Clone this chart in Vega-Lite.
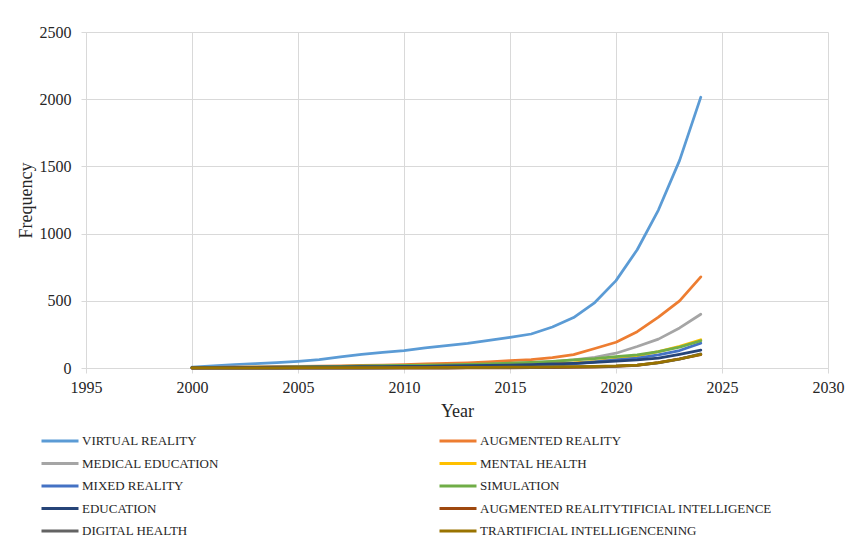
{
  "$schema": "https://vega.github.io/schema/vega-lite/v6.json",
  "width": 742,
  "height": 336,
  "autosize": {"type": "none"},
  "padding": {"left": 86, "top": 32, "right": 22, "bottom": 176},
  "background": "white",
  "config": {
    "font": "Liberation Serif",
    "view": {"stroke": null},
    "axis": {
      "gridColor": "#D9D9D9",
      "gridWidth": 1,
      "domainColor": "#D9D9D9",
      "domainWidth": 1,
      "tickColor": "#D9D9D9",
      "tickSize": 5,
      "labelFont": "Liberation Serif",
      "labelFontSize": 16,
      "labelColor": "#262626",
      "titleFont": "Liberation Serif",
      "titleFontSize": 18,
      "titleFontWeight": "normal",
      "titleColor": "#262626"
    }
  },
  "data": {
    "values": [
      {"series":"VIRTUAL REALITY","year":2000,"value":7},{"series":"VIRTUAL REALITY","year":2001,"value":15},{"series":"VIRTUAL REALITY","year":2002,"value":25},{"series":"VIRTUAL REALITY","year":2003,"value":32},{"series":"VIRTUAL REALITY","year":2004,"value":40},{"series":"VIRTUAL REALITY","year":2005,"value":50},{"series":"VIRTUAL REALITY","year":2006,"value":62},{"series":"VIRTUAL REALITY","year":2007,"value":82},{"series":"VIRTUAL REALITY","year":2008,"value":102},{"series":"VIRTUAL REALITY","year":2009,"value":117},{"series":"VIRTUAL REALITY","year":2010,"value":130},{"series":"VIRTUAL REALITY","year":2011,"value":149},{"series":"VIRTUAL REALITY","year":2012,"value":166},{"series":"VIRTUAL REALITY","year":2013,"value":184},{"series":"VIRTUAL REALITY","year":2014,"value":206},{"series":"VIRTUAL REALITY","year":2015,"value":228},{"series":"VIRTUAL REALITY","year":2016,"value":253},{"series":"VIRTUAL REALITY","year":2017,"value":305},{"series":"VIRTUAL REALITY","year":2018,"value":375},{"series":"VIRTUAL REALITY","year":2019,"value":487},{"series":"VIRTUAL REALITY","year":2020,"value":650},{"series":"VIRTUAL REALITY","year":2021,"value":880},{"series":"VIRTUAL REALITY","year":2022,"value":1175},{"series":"VIRTUAL REALITY","year":2023,"value":1545},{"series":"VIRTUAL REALITY","year":2024,"value":2015},
      {"series":"AUGMENTED REALITY","year":2000,"value":2},{"series":"AUGMENTED REALITY","year":2001,"value":4},{"series":"AUGMENTED REALITY","year":2002,"value":6},{"series":"AUGMENTED REALITY","year":2003,"value":8},{"series":"AUGMENTED REALITY","year":2004,"value":10},{"series":"AUGMENTED REALITY","year":2005,"value":12},{"series":"AUGMENTED REALITY","year":2006,"value":14},{"series":"AUGMENTED REALITY","year":2007,"value":16},{"series":"AUGMENTED REALITY","year":2008,"value":19},{"series":"AUGMENTED REALITY","year":2009,"value":22},{"series":"AUGMENTED REALITY","year":2010,"value":26},{"series":"AUGMENTED REALITY","year":2011,"value":30},{"series":"AUGMENTED REALITY","year":2012,"value":34},{"series":"AUGMENTED REALITY","year":2013,"value":39},{"series":"AUGMENTED REALITY","year":2014,"value":46},{"series":"AUGMENTED REALITY","year":2015,"value":54},{"series":"AUGMENTED REALITY","year":2016,"value":62},{"series":"AUGMENTED REALITY","year":2017,"value":78},{"series":"AUGMENTED REALITY","year":2018,"value":100},{"series":"AUGMENTED REALITY","year":2019,"value":145},{"series":"AUGMENTED REALITY","year":2020,"value":192},{"series":"AUGMENTED REALITY","year":2021,"value":270},{"series":"AUGMENTED REALITY","year":2022,"value":378},{"series":"AUGMENTED REALITY","year":2023,"value":500},{"series":"AUGMENTED REALITY","year":2024,"value":678},
      {"series":"MEDICAL EDUCATION","year":2000,"value":1},{"series":"MEDICAL EDUCATION","year":2001,"value":2},{"series":"MEDICAL EDUCATION","year":2002,"value":3},{"series":"MEDICAL EDUCATION","year":2003,"value":4},{"series":"MEDICAL EDUCATION","year":2004,"value":5},{"series":"MEDICAL EDUCATION","year":2005,"value":6},{"series":"MEDICAL EDUCATION","year":2006,"value":8},{"series":"MEDICAL EDUCATION","year":2007,"value":10},{"series":"MEDICAL EDUCATION","year":2008,"value":12},{"series":"MEDICAL EDUCATION","year":2009,"value":14},{"series":"MEDICAL EDUCATION","year":2010,"value":16},{"series":"MEDICAL EDUCATION","year":2011,"value":18},{"series":"MEDICAL EDUCATION","year":2012,"value":20},{"series":"MEDICAL EDUCATION","year":2013,"value":23},{"series":"MEDICAL EDUCATION","year":2014,"value":27},{"series":"MEDICAL EDUCATION","year":2015,"value":32},{"series":"MEDICAL EDUCATION","year":2016,"value":40},{"series":"MEDICAL EDUCATION","year":2017,"value":48},{"series":"MEDICAL EDUCATION","year":2018,"value":60},{"series":"MEDICAL EDUCATION","year":2019,"value":80},{"series":"MEDICAL EDUCATION","year":2020,"value":110},{"series":"MEDICAL EDUCATION","year":2021,"value":160},{"series":"MEDICAL EDUCATION","year":2022,"value":215},{"series":"MEDICAL EDUCATION","year":2023,"value":298},{"series":"MEDICAL EDUCATION","year":2024,"value":400},
      {"series":"MENTAL HEALTH","year":2000,"value":0},{"series":"MENTAL HEALTH","year":2001,"value":1},{"series":"MENTAL HEALTH","year":2002,"value":1},{"series":"MENTAL HEALTH","year":2003,"value":2},{"series":"MENTAL HEALTH","year":2004,"value":2},{"series":"MENTAL HEALTH","year":2005,"value":3},{"series":"MENTAL HEALTH","year":2006,"value":3},{"series":"MENTAL HEALTH","year":2007,"value":4},{"series":"MENTAL HEALTH","year":2008,"value":5},{"series":"MENTAL HEALTH","year":2009,"value":6},{"series":"MENTAL HEALTH","year":2010,"value":8},{"series":"MENTAL HEALTH","year":2011,"value":9},{"series":"MENTAL HEALTH","year":2012,"value":11},{"series":"MENTAL HEALTH","year":2013,"value":13},{"series":"MENTAL HEALTH","year":2014,"value":16},{"series":"MENTAL HEALTH","year":2015,"value":20},{"series":"MENTAL HEALTH","year":2016,"value":24},{"series":"MENTAL HEALTH","year":2017,"value":30},{"series":"MENTAL HEALTH","year":2018,"value":38},{"series":"MENTAL HEALTH","year":2019,"value":50},{"series":"MENTAL HEALTH","year":2020,"value":66},{"series":"MENTAL HEALTH","year":2021,"value":90},{"series":"MENTAL HEALTH","year":2022,"value":122},{"series":"MENTAL HEALTH","year":2023,"value":162},{"series":"MENTAL HEALTH","year":2024,"value":210},
      {"series":"MIXED REALITY","year":2000,"value":0},{"series":"MIXED REALITY","year":2001,"value":0},{"series":"MIXED REALITY","year":2002,"value":0},{"series":"MIXED REALITY","year":2003,"value":0},{"series":"MIXED REALITY","year":2004,"value":0},{"series":"MIXED REALITY","year":2005,"value":1},{"series":"MIXED REALITY","year":2006,"value":1},{"series":"MIXED REALITY","year":2007,"value":1},{"series":"MIXED REALITY","year":2008,"value":1},{"series":"MIXED REALITY","year":2009,"value":2},{"series":"MIXED REALITY","year":2010,"value":3},{"series":"MIXED REALITY","year":2011,"value":4},{"series":"MIXED REALITY","year":2012,"value":5},{"series":"MIXED REALITY","year":2013,"value":6},{"series":"MIXED REALITY","year":2014,"value":8},{"series":"MIXED REALITY","year":2015,"value":10},{"series":"MIXED REALITY","year":2016,"value":14},{"series":"MIXED REALITY","year":2017,"value":20},{"series":"MIXED REALITY","year":2018,"value":30},{"series":"MIXED REALITY","year":2019,"value":45},{"series":"MIXED REALITY","year":2020,"value":60},{"series":"MIXED REALITY","year":2021,"value":74},{"series":"MIXED REALITY","year":2022,"value":98},{"series":"MIXED REALITY","year":2023,"value":130},{"series":"MIXED REALITY","year":2024,"value":185},
      {"series":"SIMULATION","year":2000,"value":3},{"series":"SIMULATION","year":2001,"value":4},{"series":"SIMULATION","year":2002,"value":5},{"series":"SIMULATION","year":2003,"value":6},{"series":"SIMULATION","year":2004,"value":7},{"series":"SIMULATION","year":2005,"value":9},{"series":"SIMULATION","year":2006,"value":11},{"series":"SIMULATION","year":2007,"value":13},{"series":"SIMULATION","year":2008,"value":15},{"series":"SIMULATION","year":2009,"value":17},{"series":"SIMULATION","year":2010,"value":19},{"series":"SIMULATION","year":2011,"value":21},{"series":"SIMULATION","year":2012,"value":24},{"series":"SIMULATION","year":2013,"value":27},{"series":"SIMULATION","year":2014,"value":31},{"series":"SIMULATION","year":2015,"value":36},{"series":"SIMULATION","year":2016,"value":42},{"series":"SIMULATION","year":2017,"value":50},{"series":"SIMULATION","year":2018,"value":60},{"series":"SIMULATION","year":2019,"value":70},{"series":"SIMULATION","year":2020,"value":84},{"series":"SIMULATION","year":2021,"value":98},{"series":"SIMULATION","year":2022,"value":122},{"series":"SIMULATION","year":2023,"value":155},{"series":"SIMULATION","year":2024,"value":203},
      {"series":"EDUCATION","year":2000,"value":2},{"series":"EDUCATION","year":2001,"value":3},{"series":"EDUCATION","year":2002,"value":4},{"series":"EDUCATION","year":2003,"value":5},{"series":"EDUCATION","year":2004,"value":6},{"series":"EDUCATION","year":2005,"value":7},{"series":"EDUCATION","year":2006,"value":8},{"series":"EDUCATION","year":2007,"value":9},{"series":"EDUCATION","year":2008,"value":10},{"series":"EDUCATION","year":2009,"value":11},{"series":"EDUCATION","year":2010,"value":12},{"series":"EDUCATION","year":2011,"value":13},{"series":"EDUCATION","year":2012,"value":15},{"series":"EDUCATION","year":2013,"value":17},{"series":"EDUCATION","year":2014,"value":19},{"series":"EDUCATION","year":2015,"value":22},{"series":"EDUCATION","year":2016,"value":25},{"series":"EDUCATION","year":2017,"value":30},{"series":"EDUCATION","year":2018,"value":35},{"series":"EDUCATION","year":2019,"value":42},{"series":"EDUCATION","year":2020,"value":52},{"series":"EDUCATION","year":2021,"value":60},{"series":"EDUCATION","year":2022,"value":73},{"series":"EDUCATION","year":2023,"value":102},{"series":"EDUCATION","year":2024,"value":133},
      {"series":"AUGMENTED REALITYTIFICIAL INTELLIGENCE","year":2000,"value":0},{"series":"AUGMENTED REALITYTIFICIAL INTELLIGENCE","year":2001,"value":0},{"series":"AUGMENTED REALITYTIFICIAL INTELLIGENCE","year":2002,"value":0},{"series":"AUGMENTED REALITYTIFICIAL INTELLIGENCE","year":2003,"value":0},{"series":"AUGMENTED REALITYTIFICIAL INTELLIGENCE","year":2004,"value":0},{"series":"AUGMENTED REALITYTIFICIAL INTELLIGENCE","year":2005,"value":0},{"series":"AUGMENTED REALITYTIFICIAL INTELLIGENCE","year":2006,"value":0},{"series":"AUGMENTED REALITYTIFICIAL INTELLIGENCE","year":2007,"value":0},{"series":"AUGMENTED REALITYTIFICIAL INTELLIGENCE","year":2008,"value":0},{"series":"AUGMENTED REALITYTIFICIAL INTELLIGENCE","year":2009,"value":0},{"series":"AUGMENTED REALITYTIFICIAL INTELLIGENCE","year":2010,"value":0},{"series":"AUGMENTED REALITYTIFICIAL INTELLIGENCE","year":2011,"value":0},{"series":"AUGMENTED REALITYTIFICIAL INTELLIGENCE","year":2012,"value":0},{"series":"AUGMENTED REALITYTIFICIAL INTELLIGENCE","year":2013,"value":1},{"series":"AUGMENTED REALITYTIFICIAL INTELLIGENCE","year":2014,"value":1},{"series":"AUGMENTED REALITYTIFICIAL INTELLIGENCE","year":2015,"value":1},{"series":"AUGMENTED REALITYTIFICIAL INTELLIGENCE","year":2016,"value":2},{"series":"AUGMENTED REALITYTIFICIAL INTELLIGENCE","year":2017,"value":2},{"series":"AUGMENTED REALITYTIFICIAL INTELLIGENCE","year":2018,"value":4},{"series":"AUGMENTED REALITYTIFICIAL INTELLIGENCE","year":2019,"value":7},{"series":"AUGMENTED REALITYTIFICIAL INTELLIGENCE","year":2020,"value":12},{"series":"AUGMENTED REALITYTIFICIAL INTELLIGENCE","year":2021,"value":20},{"series":"AUGMENTED REALITYTIFICIAL INTELLIGENCE","year":2022,"value":40},{"series":"AUGMENTED REALITYTIFICIAL INTELLIGENCE","year":2023,"value":68},{"series":"AUGMENTED REALITYTIFICIAL INTELLIGENCE","year":2024,"value":100},
      {"series":"DIGITAL HEALTH","year":2000,"value":0},{"series":"DIGITAL HEALTH","year":2001,"value":0},{"series":"DIGITAL HEALTH","year":2002,"value":0},{"series":"DIGITAL HEALTH","year":2003,"value":0},{"series":"DIGITAL HEALTH","year":2004,"value":0},{"series":"DIGITAL HEALTH","year":2005,"value":0},{"series":"DIGITAL HEALTH","year":2006,"value":0},{"series":"DIGITAL HEALTH","year":2007,"value":0},{"series":"DIGITAL HEALTH","year":2008,"value":0},{"series":"DIGITAL HEALTH","year":2009,"value":0},{"series":"DIGITAL HEALTH","year":2010,"value":1},{"series":"DIGITAL HEALTH","year":2011,"value":1},{"series":"DIGITAL HEALTH","year":2012,"value":1},{"series":"DIGITAL HEALTH","year":2013,"value":2},{"series":"DIGITAL HEALTH","year":2014,"value":2},{"series":"DIGITAL HEALTH","year":2015,"value":3},{"series":"DIGITAL HEALTH","year":2016,"value":4},{"series":"DIGITAL HEALTH","year":2017,"value":6},{"series":"DIGITAL HEALTH","year":2018,"value":8},{"series":"DIGITAL HEALTH","year":2019,"value":10},{"series":"DIGITAL HEALTH","year":2020,"value":14},{"series":"DIGITAL HEALTH","year":2021,"value":22},{"series":"DIGITAL HEALTH","year":2022,"value":38},{"series":"DIGITAL HEALTH","year":2023,"value":66},{"series":"DIGITAL HEALTH","year":2024,"value":105},
      {"series":"TRARTIFICIAL INTELLIGENCENING","year":2000,"value":1},{"series":"TRARTIFICIAL INTELLIGENCENING","year":2001,"value":1},{"series":"TRARTIFICIAL INTELLIGENCENING","year":2002,"value":1},{"series":"TRARTIFICIAL INTELLIGENCENING","year":2003,"value":1},{"series":"TRARTIFICIAL INTELLIGENCENING","year":2004,"value":1},{"series":"TRARTIFICIAL INTELLIGENCENING","year":2005,"value":2},{"series":"TRARTIFICIAL INTELLIGENCENING","year":2006,"value":2},{"series":"TRARTIFICIAL INTELLIGENCENING","year":2007,"value":2},{"series":"TRARTIFICIAL INTELLIGENCENING","year":2008,"value":2},{"series":"TRARTIFICIAL INTELLIGENCENING","year":2009,"value":3},{"series":"TRARTIFICIAL INTELLIGENCENING","year":2010,"value":3},{"series":"TRARTIFICIAL INTELLIGENCENING","year":2011,"value":3},{"series":"TRARTIFICIAL INTELLIGENCENING","year":2012,"value":4},{"series":"TRARTIFICIAL INTELLIGENCENING","year":2013,"value":4},{"series":"TRARTIFICIAL INTELLIGENCENING","year":2014,"value":5},{"series":"TRARTIFICIAL INTELLIGENCENING","year":2015,"value":6},{"series":"TRARTIFICIAL INTELLIGENCENING","year":2016,"value":7},{"series":"TRARTIFICIAL INTELLIGENCENING","year":2017,"value":8},{"series":"TRARTIFICIAL INTELLIGENCENING","year":2018,"value":10},{"series":"TRARTIFICIAL INTELLIGENCENING","year":2019,"value":12},{"series":"TRARTIFICIAL INTELLIGENCENING","year":2020,"value":15},{"series":"TRARTIFICIAL INTELLIGENCENING","year":2021,"value":22},{"series":"TRARTIFICIAL INTELLIGENCENING","year":2022,"value":40},{"series":"TRARTIFICIAL INTELLIGENCENING","year":2023,"value":67},{"series":"TRARTIFICIAL INTELLIGENCENING","year":2024,"value":102}
    ]
  },
  "mark": {"type": "line", "strokeWidth": 2.75, "strokeCap": "round", "strokeJoin": "round"},
  "encoding": {
    "x": {
      "field": "year",
      "type": "quantitative",
      "scale": {"domain": [1995, 2030], "nice": false, "zero": false},
      "axis": {"title": "Year", "values": [1995, 2000, 2005, 2010, 2015, 2020, 2025, 2030], "format": "d", "labelFont": "Liberation Serif", "labelFontSize": 16, "labelPadding": 6, "titlePadding": 7, "labelFlush": false}
    },
    "y": {
      "field": "value",
      "type": "quantitative",
      "scale": {"domain": [0, 2500], "nice": false},
      "axis": {"title": "Frequency", "values": [0, 500, 1000, 1500, 2000, 2500], "format": "d", "labelFont": "Liberation Serif", "labelFontSize": 16, "labelPadding": 10, "titlePadding": 4}
    },
    "color": {
      "field": "series",
      "type": "nominal",
      "sort": null,
      "scale": {
        "domain": ["VIRTUAL REALITY", "AUGMENTED REALITY", "MEDICAL EDUCATION", "MENTAL HEALTH", "MIXED REALITY", "SIMULATION", "EDUCATION", "AUGMENTED REALITYTIFICIAL INTELLIGENCE", "DIGITAL HEALTH", "TRARTIFICIAL INTELLIGENCENING"],
        "range": ["#5B9BD5", "#ED7D31", "#A5A5A5", "#FFC000", "#4472C4", "#70AD47", "#264478", "#9E480E", "#636363", "#997300"]
      },
      "legend": {
        "title": null,
        "orient": "none",
        "direction": "horizontal",
        "legendX": -46,
        "legendY": 401,
        "columns": 2,
        "symbolType": "stroke",
        "symbolSize": 1369,
        "symbolStrokeWidth": 3,
        "clipHeight": 16,
        "rowPadding": 6.5,
        "columnPadding": 219,
        "labelFont": "Liberation Serif",
        "labelFontSize": 13,
        "labelColor": "#262626",
        "labelOffset": 2,
        "labelLimit": 400,
        "padding": 0
      }
    }
  }
}
